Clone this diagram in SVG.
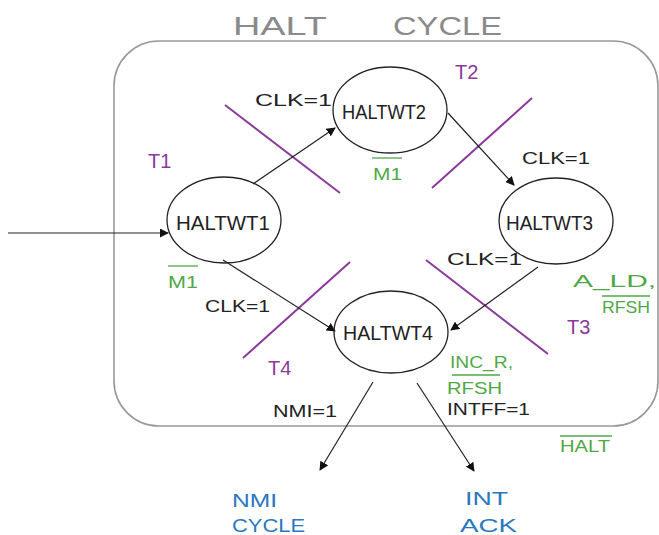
<svg xmlns="http://www.w3.org/2000/svg" width="659" height="535" viewBox="0 0 659 535">
<style>
text{font-family:"Liberation Sans",Arial,sans-serif;}
.node ellipse{fill:none;stroke:#222;stroke-width:1.3;}
.node text{font-size:20px;fill:#222;}
.conn line{stroke:#222;stroke-width:1.2;}
.arr{marker-end:url(#ah);}
.sep line{stroke:#8a3a9a;stroke-width:2;}
.t{fill:#8a3a9a;font-size:20px;}
.g{fill:#4fa844;font-size:17px;}
.gb{stroke:#4fa844;stroke-width:1.3;}
.k{fill:#222;font-size:17px;}
.b{fill:#2a78c0;font-size:19px;}
.title{fill:#8a8a8a;font-size:25px;}
</style>
<defs>
<marker id="ah" viewBox="0 0 10 10" refX="9" refY="5" markerWidth="9" markerHeight="9" markerUnits="userSpaceOnUse" orient="auto">
<path d="M0,0 L10,5 L0,10 z" fill="#111"/>
</marker>
</defs>
<rect width="659" height="535" fill="#fff"/>
<g id="title">
<text class="title" x="233" y="35" textLength="94" lengthAdjust="spacingAndGlyphs">HALT</text>
<text class="title" x="393" y="35" textLength="109" lengthAdjust="spacingAndGlyphs">CYCLE</text>
</g>
<g id="frame">
<rect x="114" y="41" width="544" height="385" rx="45" ry="45" fill="none" stroke="#999" stroke-width="1.6"/>
</g>
<g id="separators" class="sep">
<line x1="225" y1="105" x2="340" y2="193"/>
<line x1="432" y1="188" x2="532" y2="98"/>
<line x1="426" y1="260" x2="548" y2="354"/>
<line x1="350" y1="262" x2="243" y2="358"/>
</g>
<g id="connectors" class="conn">
<line class="arr" x1="8" y1="233" x2="168" y2="233"/>
<line class="arr" x1="253" y1="184" x2="335" y2="128"/>
<line class="arr" x1="448" y1="113" x2="514" y2="185"/>
<line class="arr" x1="538" y1="267" x2="451" y2="330"/>
<line class="arr" x1="223" y1="260" x2="335" y2="331"/>
<line class="arr" x1="373" y1="382" x2="320" y2="470"/>
<line class="arr" x1="417" y1="383" x2="474" y2="471"/>
</g>
<g id="HALTWT1" class="node">
<ellipse cx="224" cy="220" rx="57" ry="43"/>
<text x="176" y="230" textLength="94" lengthAdjust="spacingAndGlyphs">HALTWT1</text>
</g>
<g id="HALTWT2" class="node">
<ellipse cx="390" cy="110" rx="57" ry="43"/>
<text x="342" y="119" textLength="84" lengthAdjust="spacingAndGlyphs">HALTWT2</text>
</g>
<g id="HALTWT3" class="node">
<ellipse cx="556" cy="221" rx="57" ry="43"/>
<text x="506" y="230" textLength="87" lengthAdjust="spacingAndGlyphs">HALTWT3</text>
</g>
<g id="HALTWT4" class="node">
<ellipse cx="391" cy="332" rx="57" ry="41"/>
<text x="343" y="340" textLength="90" lengthAdjust="spacingAndGlyphs">HALTWT4</text>
</g>
<g id="labels">
<text class="t" x="148" y="168">T1</text>
<text class="t" x="455" y="79">T2</text>
<text class="t" x="567" y="334">T3</text>
<text class="t" x="268" y="375">T4</text>
<text class="k" x="255" y="106" textLength="77" lengthAdjust="spacingAndGlyphs">CLK=1</text>
<text class="k" x="522" y="164" textLength="68" lengthAdjust="spacingAndGlyphs">CLK=1</text>
<text class="k" x="447" y="265" textLength="75" lengthAdjust="spacingAndGlyphs">CLK=1</text>
<text class="k" x="205" y="312" textLength="65" lengthAdjust="spacingAndGlyphs">CLK=1</text>
<text class="k" x="273" y="417" textLength="64" lengthAdjust="spacingAndGlyphs">NMI=1</text>
<text class="k" x="447" y="415" textLength="83" lengthAdjust="spacingAndGlyphs">INTFF=1</text>
<text class="g" x="373" y="180" textLength="29" lengthAdjust="spacingAndGlyphs">M1</text>
<line class="gb" x1="372" y1="158" x2="402" y2="158"/>
<text class="g" x="168" y="288" textLength="30" lengthAdjust="spacingAndGlyphs">M1</text>
<line class="gb" x1="168" y1="266" x2="198" y2="266"/>
<text class="g" x="573" y="287" textLength="83" lengthAdjust="spacingAndGlyphs">A_LD,</text>
<text class="g" x="602" y="313" textLength="48" lengthAdjust="spacingAndGlyphs">RFSH</text>
<line class="gb" x1="602" y1="296" x2="650" y2="296"/>
<text class="g" x="450" y="368" textLength="63" lengthAdjust="spacingAndGlyphs">INC_R,</text>
<text class="g" x="447" y="394" textLength="55" lengthAdjust="spacingAndGlyphs">RFSH</text>
<line class="gb" x1="452" y1="375" x2="500" y2="375"/>
<text class="g" x="560" y="452" textLength="50" lengthAdjust="spacingAndGlyphs">HALT</text>
<line class="gb" x1="560" y1="436" x2="612" y2="436"/>
<text class="b" x="232" y="507" textLength="45" lengthAdjust="spacingAndGlyphs">NMI</text>
<text class="b" x="232" y="532" textLength="73" lengthAdjust="spacingAndGlyphs">CYCLE</text>
<text class="b" x="465" y="505" textLength="43" lengthAdjust="spacingAndGlyphs">INT</text>
<text class="b" x="460" y="532" textLength="57" lengthAdjust="spacingAndGlyphs">ACK</text>
</g>
</svg>
